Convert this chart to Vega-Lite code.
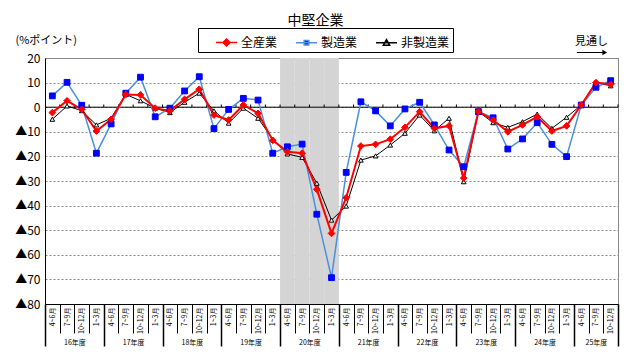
{
 "$schema": "https://vega.github.io/schema/vega-lite/v6.json",
 "width": 573,
 "height": 246,
 "autosize": "none",
 "padding": {"left": 45, "top": 58, "right": 12, "bottom": 59},
 "background": "white",
 "title": {"text": "中堅企業", "fontSize": 14, "fontWeight": "normal", "font": "Noto Sans CJK JP", "anchor": "middle", "dx": -16, "offset": 0, "color": "#000"},
 "config": {"view": {"stroke": "#888"}, "font": "Noto Sans CJK JP", "axis": {"labelColor": "#000", "titleColor": "#000", "labelFont": "Noto Sans CJK JP", "titleFont": "Noto Sans CJK JP"}, "legend": {"labelFont": "Noto Sans CJK JP"}},
 "resolve": {"axis": {"x": "independent"}, "scale": {"shape": "independent", "fill": "independent", "stroke": "independent", "size": "independent"}},
 "datasets": {
  "quarters": [
   {"i":0,"fy":"16年度","q":"4~6月"},{"i":1,"fy":"16年度","q":"7~9月"},{"i":2,"fy":"16年度","q":"10~12月"},{"i":3,"fy":"16年度","q":"1~3月"},
   {"i":4,"fy":"17年度","q":"4~6月"},{"i":5,"fy":"17年度","q":"7~9月"},{"i":6,"fy":"17年度","q":"10~12月"},{"i":7,"fy":"17年度","q":"1~3月"},
   {"i":8,"fy":"18年度","q":"4~6月"},{"i":9,"fy":"18年度","q":"7~9月"},{"i":10,"fy":"18年度","q":"10~12月"},{"i":11,"fy":"18年度","q":"1~3月"},
   {"i":12,"fy":"19年度","q":"4~6月"},{"i":13,"fy":"19年度","q":"7~9月"},{"i":14,"fy":"19年度","q":"10~12月"},{"i":15,"fy":"19年度","q":"1~3月"},
   {"i":16,"fy":"20年度","q":"4~6月"},{"i":17,"fy":"20年度","q":"7~9月"},{"i":18,"fy":"20年度","q":"10~12月"},{"i":19,"fy":"20年度","q":"1~3月"},
   {"i":20,"fy":"21年度","q":"4~6月"},{"i":21,"fy":"21年度","q":"7~9月"},{"i":22,"fy":"21年度","q":"10~12月"},{"i":23,"fy":"21年度","q":"1~3月"},
   {"i":24,"fy":"22年度","q":"4~6月"},{"i":25,"fy":"22年度","q":"7~9月"},{"i":26,"fy":"22年度","q":"10~12月"},{"i":27,"fy":"22年度","q":"1~3月"},
   {"i":28,"fy":"23年度","q":"4~6月"},{"i":29,"fy":"23年度","q":"7~9月"},{"i":30,"fy":"23年度","q":"10~12月"},{"i":31,"fy":"23年度","q":"1~3月"},
   {"i":32,"fy":"24年度","q":"4~6月"},{"i":33,"fy":"24年度","q":"7~9月"},{"i":34,"fy":"24年度","q":"10~12月"},{"i":35,"fy":"24年度","q":"1~3月"},
   {"i":36,"fy":"25年度","q":"4~6月"},{"i":37,"fy":"25年度","q":"7~9月"},{"i":38,"fy":"25年度","q":"10~12月"}
  ],
  "values": [
   {"i":0,"s":"非製造業","v":-4.9},{"i":1,"s":"非製造業","v":0.5},{"i":2,"s":"非製造業","v":-1.4},{"i":3,"s":"非製造業","v":-7.2},{"i":4,"s":"非製造業","v":-4.5},{"i":5,"s":"非製造業","v":5.2},{"i":6,"s":"非製造業","v":2.6},{"i":7,"s":"非製造業","v":-0.4},{"i":8,"s":"非製造業","v":-2.2},{"i":9,"s":"非製造業","v":2.0},{"i":10,"s":"非製造業","v":5.7},{"i":11,"s":"非製造業","v":-1.5},{"i":12,"s":"非製造業","v":-6.5},{"i":13,"s":"非製造業","v":-0.4},{"i":14,"s":"非製造業","v":-4.5},{"i":15,"s":"非製造業","v":-13.0},{"i":16,"s":"非製造業","v":-19.0},{"i":17,"s":"非製造業","v":-20.4},{"i":18,"s":"非製造業","v":-30.9},{"i":19,"s":"非製造業","v":-45.9},{"i":20,"s":"非製造業","v":-40.2},{"i":21,"s":"非製造業","v":-21.5},{"i":22,"s":"非製造業","v":-19.8},{"i":23,"s":"非製造業","v":-15.4},{"i":24,"s":"非製造業","v":-10.6},{"i":25,"s":"非製造業","v":-3.2},{"i":26,"s":"非製造業","v":-9.6},{"i":27,"s":"非製造業","v":-4.5},{"i":28,"s":"非製造業","v":-30.3},{"i":29,"s":"非製造業","v":-1.8},{"i":30,"s":"非製造業","v":-6.3},{"i":31,"s":"非製造業","v":-8.2},{"i":32,"s":"非製造業","v":-5.9},{"i":33,"s":"非製造業","v":-2.8},{"i":34,"s":"非製造業","v":-8.6},{"i":35,"s":"非製造業","v":-4.1},{"i":36,"s":"非製造業","v":0.9},{"i":37,"s":"非製造業","v":10.0},{"i":38,"s":"非製造業","v":8.7},
   {"i":0,"s":"製造業","v":4.6},{"i":1,"s":"製造業","v":10.1},{"i":2,"s":"製造業","v":0.8},{"i":3,"s":"製造業","v":-18.7},{"i":4,"s":"製造業","v":-6.8},{"i":5,"s":"製造業","v":5.7},{"i":6,"s":"製造業","v":12.2},{"i":7,"s":"製造業","v":-3.9},{"i":8,"s":"製造業","v":-0.4},{"i":9,"s":"製造業","v":6.6},{"i":10,"s":"製造業","v":12.4},{"i":11,"s":"製造業","v":-8.7},{"i":12,"s":"製造業","v":-0.9},{"i":13,"s":"製造業","v":3.6},{"i":14,"s":"製造業","v":2.9},{"i":15,"s":"製造業","v":-18.7},{"i":16,"s":"製造業","v":-16.1},{"i":17,"s":"製造業","v":-15.0},{"i":18,"s":"製造業","v":-43.5},{"i":19,"s":"製造業","v":-69.3},{"i":20,"s":"製造業","v":-26.5},{"i":21,"s":"製造業","v":2.2},{"i":22,"s":"製造業","v":-1.5},{"i":23,"s":"製造業","v":-7.6},{"i":24,"s":"製造業","v":-0.7},{"i":25,"s":"製造業","v":2.0},{"i":26,"s":"製造業","v":-7.2},{"i":27,"s":"製造業","v":-17.4},{"i":28,"s":"製造業","v":-24.2},{"i":29,"s":"製造業","v":-1.8},{"i":30,"s":"製造業","v":-4.3},{"i":31,"s":"製造業","v":-17.0},{"i":32,"s":"製造業","v":-12.9},{"i":33,"s":"製造業","v":-6.3},{"i":34,"s":"製造業","v":-15.1},{"i":35,"s":"製造業","v":-20.1},{"i":36,"s":"製造業","v":0.9},{"i":37,"s":"製造業","v":8.1},{"i":38,"s":"製造業","v":10.8},
   {"i":0,"s":"全産業","v":-2.2},{"i":1,"s":"全産業","v":2.6},{"i":2,"s":"全産業","v":-0.9},{"i":3,"s":"全産業","v":-9.7},{"i":4,"s":"全産業","v":-4.9},{"i":5,"s":"全産業","v":5.2},{"i":6,"s":"全産業","v":5.0},{"i":7,"s":"全産業","v":-0.4},{"i":8,"s":"全産業","v":-1.5},{"i":9,"s":"全産業","v":3.2},{"i":10,"s":"全産業","v":7.3},{"i":11,"s":"全産業","v":-3.2},{"i":12,"s":"全産業","v":-5.2},{"i":13,"s":"全産業","v":0.9},{"i":14,"s":"全産業","v":-2.5},{"i":15,"s":"全産業","v":-13.5},{"i":16,"s":"全産業","v":-18.1},{"i":17,"s":"全産業","v":-18.7},{"i":18,"s":"全産業","v":-33.4},{"i":19,"s":"全産業","v":-51.3},{"i":20,"s":"全産業","v":-36.8},{"i":21,"s":"全産業","v":-15.8},{"i":22,"s":"全産業","v":-15.1},{"i":23,"s":"全産業","v":-13.0},{"i":24,"s":"全産業","v":-8.2},{"i":25,"s":"全産業","v":-1.8},{"i":26,"s":"全産業","v":-8.6},{"i":27,"s":"全産業","v":-7.6},{"i":28,"s":"全産業","v":-28.8},{"i":29,"s":"全産業","v":-1.8},{"i":30,"s":"全産業","v":-5.2},{"i":31,"s":"全産業","v":-10.0},{"i":32,"s":"全産業","v":-7.2},{"i":33,"s":"全産業","v":-3.9},{"i":34,"s":"全産業","v":-9.7},{"i":35,"s":"全産業","v":-7.6},{"i":36,"s":"全産業","v":0.9},{"i":37,"s":"全産業","v":10.0},{"i":38,"s":"全産業","v":9.3}
  ]
 },
 "layer": [
  {
   "data": {"name": "quarters"},
   "transform": [{"filter": "datum.fy === '20年度'"}],
   "mark": {"type": "rect", "color": "#d4d4d4", "xOffset": -7.35, "x2Offset": 7.35},
   "encoding": {
    "x": {"field": "i", "type": "quantitative", "scale": {"domain": [-0.5, 38.5], "nice": false, "zero": false},
     "axis": {"orient": "bottom", "values": [-0.5,0.5,1.5,2.5,3.5,4.5,5.5,6.5,7.5,8.5,9.5,10.5,11.5,12.5,13.5,14.5,15.5,16.5,17.5,18.5,19.5,20.5,21.5,22.5,23.5,24.5,25.5,26.5,27.5,28.5,29.5,30.5,31.5,32.5,33.5,34.5,35.5,36.5,37.5,38.5], "tickCount": 50, "labels": false, "domain": false, "grid": false, "ticks": true, "tickSize": 29, "tickColor": "#000", "tickWidth": 1, "title": null}},
    "x2": {"field": "i"}
   }
  },
  {
   "data": {"name": "quarters"},
   "mark": {"type": "rule", "xOffset": 7.35, "color": "#000", "strokeWidth": 1},
   "encoding": {
    "x": {"field": "i", "type": "quantitative", "scale": {"domain": [-0.5, 38.5], "nice": false, "zero": false},
     "axis": {"orient": "bottom", "values": [0,1,2,3,4,5,6,7,8,9,10,11,12,13,14,15,16,17,18,19,20,21,22,23,24,25,26,27,28,29,30,31,32,33,34,35,36,37,38], "tickCount": 50, "labelExpr": "['4~6月','7~9月','10~12月','1~3月'][datum.value % 4]", "labelAngle": 270, "labelFontSize": 7, "labelPadding": 3, "ticks": false, "tickSize": 0, "domain": true, "domainColor": "#000", "grid": false, "title": null, "labelOverlap": false, "labelFlush": false, "labelBound": false}},
    "y": {"datum": 0, "type": "quantitative", "scale": {"domain": [-80, 20], "nice": false, "zero": false},
     "axis": {"values": [-80,-70,-60,-50,-40,-30,-20,-10,0,10,20], "tickCount": 20, "labelExpr": "datum.value < 0 ? '▲' + (-datum.value) : '' + datum.value", "labelFontSize": 12, "grid": true, "gridDash": [2, 2], "gridColor": "#888", "ticks": false, "labelPadding": 5, "domainColor": "#000", "labelOverlap": false, "title": "(%ポイント)", "titleAngle": 0, "titleX": -30, "titleY": -18, "titleAlign": "left", "titleBaseline": "middle", "titleFontSize": 11, "titleFontWeight": "normal"}},
    "y2": {"datum": 1.1}
   }
  },
  {
   "data": {"values": [{}]},
   "mark": {"type": "rule", "color": "#000", "strokeWidth": 1},
   "encoding": {"y": {"datum": 0, "type": "quantitative",
     "axis": {"values": [-80,-70,-60,-50,-40,-30,-20,-10,0,10,20], "tickCount": 20, "labelExpr": "datum.value < 0 ? '▲' + (-datum.value) : '' + datum.value", "labelFontSize": 12, "grid": true, "gridDash": [2, 2], "gridColor": "#888", "ticks": false, "labelPadding": 5, "domainColor": "#000", "labelOverlap": false, "title": "(%ポイント)", "titleAngle": 0, "titleX": -30, "titleY": -18, "titleAlign": "left", "titleBaseline": "middle", "titleFontSize": 11, "titleFontWeight": "normal"}}}
  },
  {
   "data": {"name": "values"},
   "transform": [{"filter": "datum.s === '非製造業'"}],
   "mark": {"type": "line", "color": "#000", "strokeWidth": 1},
   "encoding": {
    "x": {"field": "i", "type": "quantitative",
     "axis": {"orient": "bottom", "values": [-0.5,3.5,7.5,11.5,15.5,19.5,23.5,27.5,31.5,35.5,38.5], "tickCount": 50, "labels": false, "domain": false, "grid": false, "ticks": true, "tickSize": 42, "tickWidth": 1.5, "tickColor": "#000", "title": null}},
    "y": {"field": "v", "type": "quantitative",
     "axis": {"values": [-80,-70,-60,-50,-40,-30,-20,-10,0,10,20], "tickCount": 20, "labelExpr": "datum.value < 0 ? '▲' + (-datum.value) : '' + datum.value", "labelFontSize": 12, "grid": true, "gridDash": [2, 2], "gridColor": "#888", "ticks": false, "labelPadding": 5, "domainColor": "#000", "labelOverlap": false, "title": "(%ポイント)", "titleAngle": 0, "titleX": -30, "titleY": -18, "titleAlign": "left", "titleBaseline": "middle", "titleFontSize": 11, "titleFontWeight": "normal"}}
   }
  },
  {
   "data": {"name": "values"},
   "transform": [{"filter": "datum.s === '製造業'"}],
   "mark": {"type": "line", "color": "#4a8fe0", "strokeWidth": 1.5},
   "encoding": {
    "x": {"field": "i", "type": "quantitative",
     "axis": {"orient": "bottom", "values": [1.5,5.5,9.5,13.5,17.5,21.5,25.5,29.5,33.5,37], "tickCount": 50, "labelExpr": "(16 + floor((datum.value + 0.5) / 4)) + '年度'", "ticks": false, "tickSize": 0, "labelPadding": 34, "labelFontSize": 7, "domain": false, "grid": false, "title": null, "labelOverlap": false, "labelFlush": false, "labelBound": false}},
    "y": {"field": "v", "type": "quantitative",
     "axis": {"values": [-80,-70,-60,-50,-40,-30,-20,-10,0,10,20], "tickCount": 20, "labelExpr": "datum.value < 0 ? '▲' + (-datum.value) : '' + datum.value", "labelFontSize": 12, "grid": true, "gridDash": [2, 2], "gridColor": "#888", "ticks": false, "labelPadding": 5, "domainColor": "#000", "labelOverlap": false, "title": "(%ポイント)", "titleAngle": 0, "titleX": -30, "titleY": -18, "titleAlign": "left", "titleBaseline": "middle", "titleFontSize": 11, "titleFontWeight": "normal"}}
   }
  },
  {
   "data": {"name": "values"},
   "transform": [{"filter": "datum.s === '全産業'"}],
   "mark": {"type": "line", "color": "#ff0000", "strokeWidth": 2},
   "encoding": {
    "x": {"field": "i", "type": "quantitative", "axis": null},
    "y": {"field": "v", "type": "quantitative",
     "axis": {"values": [-80,-70,-60,-50,-40,-30,-20,-10,0,10,20], "tickCount": 20, "labelExpr": "datum.value < 0 ? '▲' + (-datum.value) : '' + datum.value", "labelFontSize": 12, "grid": true, "gridDash": [2, 2], "gridColor": "#888", "ticks": false, "labelPadding": 5, "domainColor": "#000", "labelOverlap": false, "title": "(%ポイント)", "titleAngle": 0, "titleX": -30, "titleY": -18, "titleAlign": "left", "titleBaseline": "middle", "titleFontSize": 11, "titleFontWeight": "normal"}}
   }
  },
  {
   "data": {"name": "values"},
   "mark": {"type": "point", "opacity": 1, "strokeWidth": 1, "filled": false},
   "encoding": {
    "x": {"field": "i", "type": "quantitative", "axis": null},
    "y": {"field": "v", "type": "quantitative",
     "axis": {"values": [-80,-70,-60,-50,-40,-30,-20,-10,0,10,20], "tickCount": 20, "labelExpr": "datum.value < 0 ? '▲' + (-datum.value) : '' + datum.value", "labelFontSize": 12, "grid": true, "gridDash": [2, 2], "gridColor": "#888", "ticks": false, "labelPadding": 5, "domainColor": "#000", "labelOverlap": false, "title": "(%ポイント)", "titleAngle": 0, "titleX": -30, "titleY": -18, "titleAlign": "left", "titleBaseline": "middle", "titleFontSize": 11, "titleFontWeight": "normal"}},
    "shape": {"field": "s", "type": "nominal", "scale": {"domain": ["全産業", "製造業", "非製造業"], "range": ["diamond", "square", "triangle-up"]}, "legend": null},
    "fill": {"field": "s", "type": "nominal", "scale": {"domain": ["全産業", "製造業", "非製造業"], "range": ["#ff0000", "#0000ff", "#ffffff"]}, "legend": null},
    "stroke": {"field": "s", "type": "nominal", "scale": {"domain": ["全産業", "製造業", "非製造業"], "range": ["#ff0000", "#0000ff", "#000000"]}, "legend": null},
    "size": {"field": "s", "type": "nominal", "scale": {"domain": ["全産業", "製造業", "非製造業"], "range": [45, 22, 40]}, "legend": null}
   }
  },
  {
   "data": {"name": "values"},
   "transform": [{"filter": "datum.i < 0"}],
   "mark": {"type": "point", "opacity": 1, "strokeWidth": 1.5, "filled": false},
   "encoding": {
    "shape": {"field": "s", "type": "nominal", "scale": {"domain": ["全産業", "製造業", "非製造業"], "range": ["M-1,0H1M0,-0.33L0.33,0L0,0.33L-0.33,0Z", "M-1,0H1M-0.22,-0.22H0.22V0.22H-0.22Z", "M-1,0H1M0,-0.3L0.3,0.24L-0.3,0.24Z"]},
     "legend": {"orient": "none", "legendX": 153, "legendY": -30, "direction": "horizontal", "title": null, "strokeColor": "#000", "fillColor": "#fff", "padding": 3, "symbolOffset": 14, "columnPadding": 3, "labelFontSize": 12, "labelOffset": 3, "symbolSize": 441, "symbolStrokeWidth": 1.5}},
    "fill": {"field": "s", "type": "nominal", "scale": {"domain": ["全産業", "製造業", "非製造業"], "range": ["#ff0000", "#0000ff", "#ffffff"]},
     "legend": {"orient": "none", "legendX": 153, "legendY": -30, "direction": "horizontal", "title": null, "strokeColor": "#000", "fillColor": "#fff", "padding": 3, "symbolOffset": 14, "columnPadding": 3, "labelFontSize": 12, "labelOffset": 3, "symbolSize": 441, "symbolStrokeWidth": 1.5}},
    "stroke": {"field": "s", "type": "nominal", "scale": {"domain": ["全産業", "製造業", "非製造業"], "range": ["#ff0000", "#4a8fe0", "#000000"]},
     "legend": {"orient": "none", "legendX": 153, "legendY": -30, "direction": "horizontal", "title": null, "strokeColor": "#000", "fillColor": "#fff", "padding": 3, "symbolOffset": 14, "columnPadding": 3, "labelFontSize": 12, "labelOffset": 3, "symbolSize": 441, "symbolStrokeWidth": 1.5}}
   }
  },
  {
   "data": {"values": [{"t": "見通し"}]},
   "mark": {"type": "text", "fontSize": 11, "dy": -16.5, "align": "center", "color": "#000"},
   "encoding": {
    "text": {"field": "t"},
    "x": {"datum": 36.7, "type": "quantitative", "axis": null},
    "y": {"datum": 20, "type": "quantitative",
     "axis": {"values": [-80,-70,-60,-50,-40,-30,-20,-10,0,10,20], "tickCount": 20, "labelExpr": "datum.value < 0 ? '▲' + (-datum.value) : '' + datum.value", "labelFontSize": 12, "grid": true, "gridDash": [2, 2], "gridColor": "#888", "ticks": false, "labelPadding": 5, "domainColor": "#000", "labelOverlap": false, "title": "(%ポイント)", "titleAngle": 0, "titleX": -30, "titleY": -18, "titleAlign": "left", "titleBaseline": "middle", "titleFontSize": 11, "titleFontWeight": "normal"}}
   }
  },
  {
   "data": {"values": [{}]},
   "mark": {"type": "rule", "yOffset": -5.5, "color": "#000", "strokeWidth": 1},
   "encoding": {
    "x": {"datum": 35.7, "type": "quantitative", "axis": null},
    "x2": {"datum": 37.5},
    "y": {"datum": 20, "type": "quantitative",
     "axis": {"values": [-80,-70,-60,-50,-40,-30,-20,-10,0,10,20], "tickCount": 20, "labelExpr": "datum.value < 0 ? '▲' + (-datum.value) : '' + datum.value", "labelFontSize": 12, "grid": true, "gridDash": [2, 2], "gridColor": "#888", "ticks": false, "labelPadding": 5, "domainColor": "#000", "labelOverlap": false, "title": "(%ポイント)", "titleAngle": 0, "titleX": -30, "titleY": -18, "titleAlign": "left", "titleBaseline": "middle", "titleFontSize": 11, "titleFontWeight": "normal"}}
   }
  },
  {
   "data": {"values": [{}]},
   "mark": {"type": "point", "shape": "triangle-right", "filled": true, "size": 30, "yOffset": -5.5, "color": "#000", "opacity": 1},
   "encoding": {
    "x": {"datum": 37.6, "type": "quantitative", "axis": null},
    "y": {"datum": 20, "type": "quantitative",
     "axis": {"values": [-80,-70,-60,-50,-40,-30,-20,-10,0,10,20], "tickCount": 20, "labelExpr": "datum.value < 0 ? '▲' + (-datum.value) : '' + datum.value", "labelFontSize": 12, "grid": true, "gridDash": [2, 2], "gridColor": "#888", "ticks": false, "labelPadding": 5, "domainColor": "#000", "labelOverlap": false, "title": "(%ポイント)", "titleAngle": 0, "titleX": -30, "titleY": -18, "titleAlign": "left", "titleBaseline": "middle", "titleFontSize": 11, "titleFontWeight": "normal"}}
   }
  }
 ]
}
